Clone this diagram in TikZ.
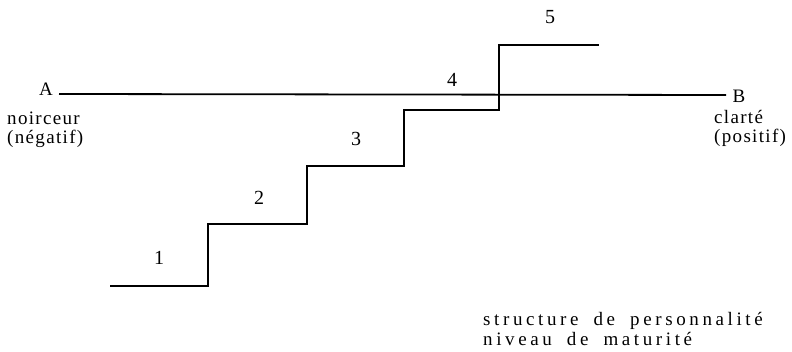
\documentclass[tikz,border=0pt]{standalone}
\usepackage{fontspec}
\setmainfont{Liberation Serif}
\newfontfamily\lblfont[LetterSpace=7]{Liberation Serif}
\newfontfamily\botfont[LetterSpace=19,WordSpace=1.8]{Liberation Serif}
\begin{document}
\begin{tikzpicture}[x=1pt,y=-1pt,
  lbl/.style={font=\lblfont\fontsize{19}{16}\selectfont, inner sep=0pt},
  side/.style={lbl, anchor=base west},
  num/.style={font=\fontsize{20}{20}\selectfont, inner sep=0pt},
  bot/.style={font=\botfont\fontsize{19}{19}\selectfont, inner sep=0pt, anchor=base west},
  stair/.style={line width=2.6pt, line join=miter},
  axis/.style={line width=1.8pt}]
\useasboundingbox (0,0) rectangle (792,352);
\fill[white] (0,0) rectangle (792,352);
% axis
\node[lbl] (A) at (46,89) {A};
\node[lbl] (B) at (739,96) {B};
\coordinate (la) at (59,94);
\coordinate (lb) at (726,95);
\draw[axis] (la) -- (lb);
\node[side] (noir) at (7,125) {noirceur};
\node[side] (neg) at (7,144) {(négatif)};
\node[side] (clar) at (714,124) {clarté};
\node[side] (pos) at (714,143) {(positif)};
% stairs
\coordinate (s0) at (110,286);
\coordinate (s1) at (208,286);
\coordinate (s2) at (208,224);
\coordinate (s3) at (307,224);
\coordinate (s4) at (307,166);
\coordinate (s5) at (404,166);
\coordinate (s6) at (404,110);
\coordinate (s7) at (499,110);
\coordinate (s8) at (499,45);
\coordinate (s9) at (599,45);
\draw[stair] (s0) -- (s1) -- (s2) -- (s3) -- (s4) -- (s5) -- (s6) -- (s7) -- (s8) -- (s9);
% step numbers
\node[num] (n1) at (159,258) {1};
\node[num] (n2) at (259,198) {2};
\node[num] (n3) at (356,139) {3};
\node[num] (n4) at (452,80) {4};
\node[num] (n5) at (550,17) {5};
% bottom text
\node[bot] (st1) at (483,326) {structure de personnalité};
\node[bot] (st2) at (483,345) {niveau de maturité};
\end{tikzpicture}
\end{document}
